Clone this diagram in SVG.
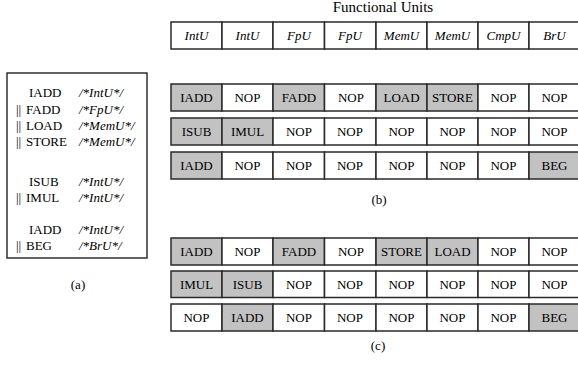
<svg xmlns="http://www.w3.org/2000/svg" width="578" height="366" viewBox="0 0 578 366">
<style>
text{font-family:"Liberation Serif","Times New Roman",serif;font-size:13px;fill:#000}
.c{text-anchor:middle}
.i{font-style:italic}
.cell{fill:#fff;stroke:#2a2a2a;stroke-width:1.5}
.g{fill:#c2c2c2}
.box{fill:#fff;stroke:#222;stroke-width:1.4}
</style>
<rect width="578" height="366" fill="#fff"/>
<g id="program">
<rect class="box" x="7" y="73" width="140" height="185"/>
<text x="29" y="97">IADD</text><text class="i" x="79" y="97">/*IntU*/</text>
<text x="16" y="114">||</text><text x="26" y="114">FADD</text><text class="i" x="79" y="114">/*FpU*/</text>
<text x="16" y="130">||</text><text x="26" y="130">LOAD</text><text class="i" x="79" y="130">/*MemU*/</text>
<text x="16" y="146">||</text><text x="26" y="146">STORE</text><text class="i" x="79" y="146">/*MemU*/</text>
<text x="29" y="186">ISUB</text><text class="i" x="79" y="186">/*IntU*/</text>
<text x="16" y="202">||</text><text x="26" y="202">IMUL</text><text class="i" x="79" y="202">/*IntU*/</text>
<text x="29" y="234">IADD</text><text class="i" x="79" y="234">/*IntU*/</text>
<text x="16" y="250">||</text><text x="26" y="250">BEG</text><text class="i" x="79" y="250">/*BrU*/</text>
</g>
<text class="c" x="78" y="289">(a)</text>
<text class="c" x="383" y="12" style="font-size:15px">Functional Units</text>
<g id="header">
<g id="h1"><rect class="cell" x="171" y="22" width="51" height="27"/><text class="c i" x="196.5" y="40">IntU</text></g>
<g id="h2"><rect class="cell" x="222" y="22" width="51" height="27"/><text class="c i" x="247.5" y="40">IntU</text></g>
<g id="h3"><rect class="cell" x="273" y="22" width="51.5" height="27"/><text class="c i" x="299" y="40">FpU</text></g>
<g id="h4"><rect class="cell" x="324.5" y="22" width="51.5" height="27"/><text class="c i" x="350" y="40">FpU</text></g>
<g id="h5"><rect class="cell" x="376" y="22" width="51" height="27"/><text class="c i" x="401.5" y="40">MemU</text></g>
<g id="h6"><rect class="cell" x="427" y="22" width="51" height="27"/><text class="c i" x="452.5" y="40">MemU</text></g>
<g id="h7"><rect class="cell" x="478" y="22" width="51" height="27"/><text class="c i" x="503.5" y="40">CmpU</text></g>
<g id="h8"><rect class="cell" x="529" y="22" width="51" height="27"/><text class="c i" x="554.5" y="40">BrU</text></g>
</g>
<g id="b1">
<g id="b1c1"><rect class="cell g" x="171" y="84" width="51" height="27"/><text class="c" x="196.5" y="102">IADD</text></g>
<g id="b1c2"><rect class="cell" x="222" y="84" width="51" height="27"/><text class="c" x="247.5" y="102">NOP</text></g>
<g id="b1c3"><rect class="cell g" x="273" y="84" width="51.5" height="27"/><text class="c" x="299" y="102">FADD</text></g>
<g id="b1c4"><rect class="cell" x="324.5" y="84" width="51.5" height="27"/><text class="c" x="351" y="102">NOP</text></g>
<g id="b1c5"><rect class="cell g" x="376" y="84" width="51" height="27"/><text class="c" x="401.5" y="102">LOAD</text></g>
<g id="b1c6"><rect class="cell g" x="427" y="84" width="51" height="27"/><text class="c" x="452.5" y="102">STORE</text></g>
<g id="b1c7"><rect class="cell" x="478" y="84" width="51" height="27"/><text class="c" x="503.5" y="102">NOP</text></g>
<g id="b1c8"><rect class="cell" x="529" y="84" width="51" height="27"/><text class="c" x="554.5" y="102">NOP</text></g>
</g>
<g id="b2">
<g id="b2c1"><rect class="cell g" x="171" y="118" width="51" height="27"/><text class="c" x="196.5" y="136">ISUB</text></g>
<g id="b2c2"><rect class="cell g" x="222" y="118" width="51" height="27"/><text class="c" x="247.5" y="136">IMUL</text></g>
<g id="b2c3"><rect class="cell" x="273" y="118" width="51.5" height="27"/><text class="c" x="299" y="136">NOP</text></g>
<g id="b2c4"><rect class="cell" x="324.5" y="118" width="51.5" height="27"/><text class="c" x="350" y="136">NOP</text></g>
<g id="b2c5"><rect class="cell" x="376" y="118" width="51" height="27"/><text class="c" x="401.5" y="136">NOP</text></g>
<g id="b2c6"><rect class="cell" x="427" y="118" width="51" height="27"/><text class="c" x="452.5" y="136">NOP</text></g>
<g id="b2c7"><rect class="cell" x="478" y="118" width="51" height="27"/><text class="c" x="503.5" y="136">NOP</text></g>
<g id="b2c8"><rect class="cell" x="529" y="118" width="51" height="27"/><text class="c" x="554.5" y="136">NOP</text></g>
</g>
<g id="b3">
<g id="b3c1"><rect class="cell g" x="171" y="152" width="51" height="27"/><text class="c" x="196.5" y="170">IADD</text></g>
<g id="b3c2"><rect class="cell" x="222" y="152" width="51" height="27"/><text class="c" x="247.5" y="170">NOP</text></g>
<g id="b3c3"><rect class="cell" x="273" y="152" width="51.5" height="27"/><text class="c" x="299" y="170">NOP</text></g>
<g id="b3c4"><rect class="cell" x="324.5" y="152" width="51.5" height="27"/><text class="c" x="350" y="170">NOP</text></g>
<g id="b3c5"><rect class="cell" x="376" y="152" width="51" height="27"/><text class="c" x="401.5" y="170">NOP</text></g>
<g id="b3c6"><rect class="cell" x="427" y="152" width="51" height="27"/><text class="c" x="452.5" y="170">NOP</text></g>
<g id="b3c7"><rect class="cell" x="478" y="152" width="51" height="27"/><text class="c" x="503.5" y="170">NOP</text></g>
<g id="b3c8"><rect class="cell g" x="529" y="152" width="51" height="27"/><text class="c" x="554.5" y="170">BEG</text></g>
</g>
<text class="c" x="379" y="204">(b)</text>
<g id="c1">
<g id="c1c1"><rect class="cell g" x="171" y="238" width="51" height="27"/><text class="c" x="196.5" y="256">IADD</text></g>
<g id="c1c2"><rect class="cell" x="222" y="238" width="51" height="27"/><text class="c" x="247.5" y="256">NOP</text></g>
<g id="c1c3"><rect class="cell g" x="273" y="238" width="51.5" height="27"/><text class="c" x="299" y="256">FADD</text></g>
<g id="c1c4"><rect class="cell" x="324.5" y="238" width="51.5" height="27"/><text class="c" x="351" y="256">NOP</text></g>
<g id="c1c5"><rect class="cell g" x="376" y="238" width="51" height="27"/><text class="c" x="401.5" y="256">STORE</text></g>
<g id="c1c6"><rect class="cell g" x="427" y="238" width="51" height="27"/><text class="c" x="452.5" y="256">LOAD</text></g>
<g id="c1c7"><rect class="cell" x="478" y="238" width="51" height="27"/><text class="c" x="503.5" y="256">NOP</text></g>
<g id="c1c8"><rect class="cell" x="529" y="238" width="51" height="27"/><text class="c" x="554.5" y="256">NOP</text></g>
</g>
<g id="c2">
<g id="c2c1"><rect class="cell g" x="171" y="271" width="51" height="26.5"/><text class="c" x="196.5" y="288.5">IMUL</text></g>
<g id="c2c2"><rect class="cell g" x="222" y="271" width="51" height="26.5"/><text class="c" x="247.5" y="288.5">ISUB</text></g>
<g id="c2c3"><rect class="cell" x="273" y="271" width="51.5" height="26.5"/><text class="c" x="299" y="288.5">NOP</text></g>
<g id="c2c4"><rect class="cell" x="324.5" y="271" width="51.5" height="26.5"/><text class="c" x="350" y="288.5">NOP</text></g>
<g id="c2c5"><rect class="cell" x="376" y="271" width="51" height="26.5"/><text class="c" x="401.5" y="288.5">NOP</text></g>
<g id="c2c6"><rect class="cell" x="427" y="271" width="51" height="26.5"/><text class="c" x="452.5" y="288.5">NOP</text></g>
<g id="c2c7"><rect class="cell" x="478" y="271" width="51" height="26.5"/><text class="c" x="503.5" y="288.5">NOP</text></g>
<g id="c2c8"><rect class="cell" x="529" y="271" width="51" height="26.5"/><text class="c" x="554.5" y="288.5">NOP</text></g>
</g>
<g id="c3">
<g id="c3c1"><rect class="cell" x="171" y="304" width="51" height="27"/><text class="c" x="196.5" y="322">NOP</text></g>
<g id="c3c2"><rect class="cell g" x="222" y="304" width="51" height="27"/><text class="c" x="247.5" y="322">IADD</text></g>
<g id="c3c3"><rect class="cell" x="273" y="304" width="51.5" height="27"/><text class="c" x="299" y="322">NOP</text></g>
<g id="c3c4"><rect class="cell" x="324.5" y="304" width="51.5" height="27"/><text class="c" x="350" y="322">NOP</text></g>
<g id="c3c5"><rect class="cell" x="376" y="304" width="51" height="27"/><text class="c" x="401.5" y="322">NOP</text></g>
<g id="c3c6"><rect class="cell" x="427" y="304" width="51" height="27"/><text class="c" x="452.5" y="322">NOP</text></g>
<g id="c3c7"><rect class="cell" x="478" y="304" width="51" height="27"/><text class="c" x="503.5" y="322">NOP</text></g>
<g id="c3c8"><rect class="cell g" x="529" y="304" width="51" height="27"/><text class="c" x="554.5" y="322">BEG</text></g>
</g>
<text class="c" x="378" y="350">(c)</text>
</svg>
